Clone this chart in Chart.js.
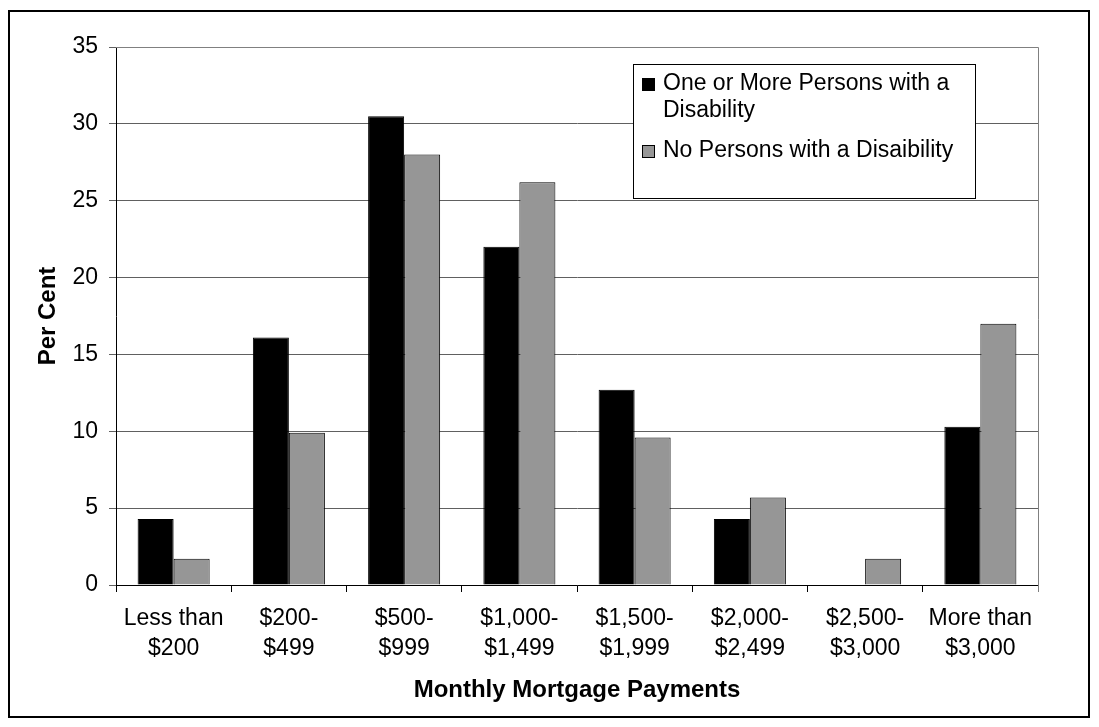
<!DOCTYPE html>
<html>
<head>
<meta charset="utf-8">
<script src="https://cdn.jsdelivr.net/npm/chart.js@4/dist/chart.umd.min.js"></script>
<style>
	body { margin: 0; background: #fff; }
	canvas { display: block; }
</style>
</head>
<body>
<canvas id="chart" width="1099" height="727"></canvas>
<script>
// categories (two-line tick labels)
const categories = [
	["Less than", "$200"],
	["$200-", "$499"],
	["$500-", "$999"],
	["$1,000-", "$1,499"],
	["$1,500-", "$1,999"],
	["$2,000-", "$2,499"],
	["$2,500-", "$3,000"],
	["More than", "$3,000"],
];

const seriesNames = ["One or More Persons with a Disability", "No Persons with a Disaibility"];

// per cent values
const withDisability = [4.3, 16.1, 30.5, 22.0, 12.7, 4.3, 0, 10.3];
const noDisability = [1.7, 9.9, 28.0, 26.2, 9.6, 5.7, 1.7, 17.0];

const yMin = 0;
const yMax = 35;
const yStep = 5;

const FONT = "'Liberation Sans', Arial, sans-serif";

// outer frame round the whole picture, grey border on top/right of the plot
const framePlugin = {
	id: "frame",
	beforeDraw(chart) {
		const ctx = chart.ctx;
		ctx.save();
		ctx.fillStyle = "#fff";
		ctx.fillRect(0, 0, chart.width, chart.height);
		ctx.strokeStyle = "#000";
		ctx.lineWidth = 2;
		ctx.strokeRect(9, 11, 1080, 706);
		ctx.restore();
	},
	afterDatasetsDraw(chart) {
		const { ctx, chartArea } = chart;
		ctx.save();
		ctx.strokeStyle = "#808080";
		ctx.lineWidth = 1;
		ctx.beginPath();
		ctx.moveTo(chartArea.left, chartArea.top + 0.5);
		ctx.lineTo(chartArea.right + 0.5, chartArea.top + 0.5);
		ctx.lineTo(chartArea.right + 0.5, chartArea.bottom + 7);
		ctx.stroke();
		ctx.restore();
	},
};

// legend box inside the plot, labels wrapped like the original
const boxLegend = {
	id: "boxLegend",
	afterDraw(chart) {
		const ctx = chart.ctx;
		const box = { left: 633, top: 64, right: 975, bottom: 198 };
		ctx.save();
		ctx.fillStyle = "#fff";
		ctx.fillRect(box.left, box.top, box.right - box.left, box.bottom - box.top);
		ctx.strokeStyle = "#000";
		ctx.lineWidth = 1;
		ctx.strokeRect(box.left + 0.5, box.top + 0.5, box.right - box.left, box.bottom - box.top);

		ctx.font = "23px " + FONT;
		ctx.textBaseline = "middle";
		const maxW = box.right - box.left - 42;
		let y = box.top + 20;
		chart.data.datasets.forEach((ds) => {
			// wrap label
			const words = ds.label.split(" ");
			let lines = [];
			let cur = "";
			words.forEach((w) => {
				const test = cur ? cur + " " + w : w;
				if (ctx.measureText(test).width > maxW && cur) {
					lines.push(cur);
					cur = w;
				} else {
					cur = test;
				}
			});
			lines.push(cur);

			ctx.fillStyle = ds.backgroundColor;
			ctx.fillRect(box.left + 9, y - 6, 12, 12);
			ctx.strokeStyle = "#000";
			ctx.strokeRect(box.left + 9.5, y - 5.5, 12, 12);

			ctx.fillStyle = "#000";
			lines.forEach((line, i) => {
				ctx.fillText(line, box.left + 30, y + i * 27);
			});
			y += lines.length * 27 + 13;
		});
		ctx.restore();
	},
};

const chart = new Chart(document.getElementById("chart"), {
	type: "bar",
	data: {
		labels: categories,
		datasets: [
			{
				label: seriesNames[0],
				data: withDisability,
				backgroundColor: "#000000",
				borderColor: "#000000",
				borderWidth: 1,
			},
			{
				label: seriesNames[1],
				data: noDisability,
				backgroundColor: "#969696",
				borderColor: "#000000",
				borderWidth: 1,
			},
		],
	},
	options: {
		responsive: false,
		animation: false,
		devicePixelRatio: 1,
		layout: {
			padding: { top: 47, right: 61, left: 0, bottom: 0 },
		},
		datasets: {
			bar: {
				categoryPercentage: 0.625,
				barPercentage: 1.0,
			},
		},
		plugins: {
			legend: { display: false },
			tooltip: { enabled: false },
		},
		scales: {
			x: {
				grid: {
					offset: true,
					drawOnChartArea: false,
					drawTicks: true,
					tickLength: 7,
					color: "#000",
				},
				border: { color: "#000", width: 1 },
				ticks: {
					color: "#000",
					padding: 12,
					maxRotation: 0,
					autoSkip: false,
					font: { family: FONT, size: 23, lineHeight: 1.3 },
				},
				title: {
					display: true,
					text: "Monthly Mortgage Payments",
					color: "#000",
					font: { family: FONT, size: 24, weight: "bold", lineHeight: 1.2 },
					padding: { top: 0, bottom: 22 },
				},
				afterFit(scale) {
					scale.height = 142;
				},
			},
			y: {
				min: yMin,
				max: yMax,
				grid: {
					color: "#606060",
					tickLength: 7,
				},
				border: { color: "#000", width: 1 },
				ticks: {
					stepSize: yStep,
					color: "#000",
					padding: 11,
					font: { family: FONT, size: 23 },
				},
				title: {
					display: true,
					text: "Per Cent",
					color: "#000",
					font: { family: FONT, size: 24, weight: "bold", lineHeight: 1.2 },
					padding: { top: 34, bottom: 0 },
				},
				afterFit(scale) {
					scale.width = 116;
				},
			},
		},
	},
	plugins: [framePlugin, boxLegend],
});
</script>
</body>
</html>
